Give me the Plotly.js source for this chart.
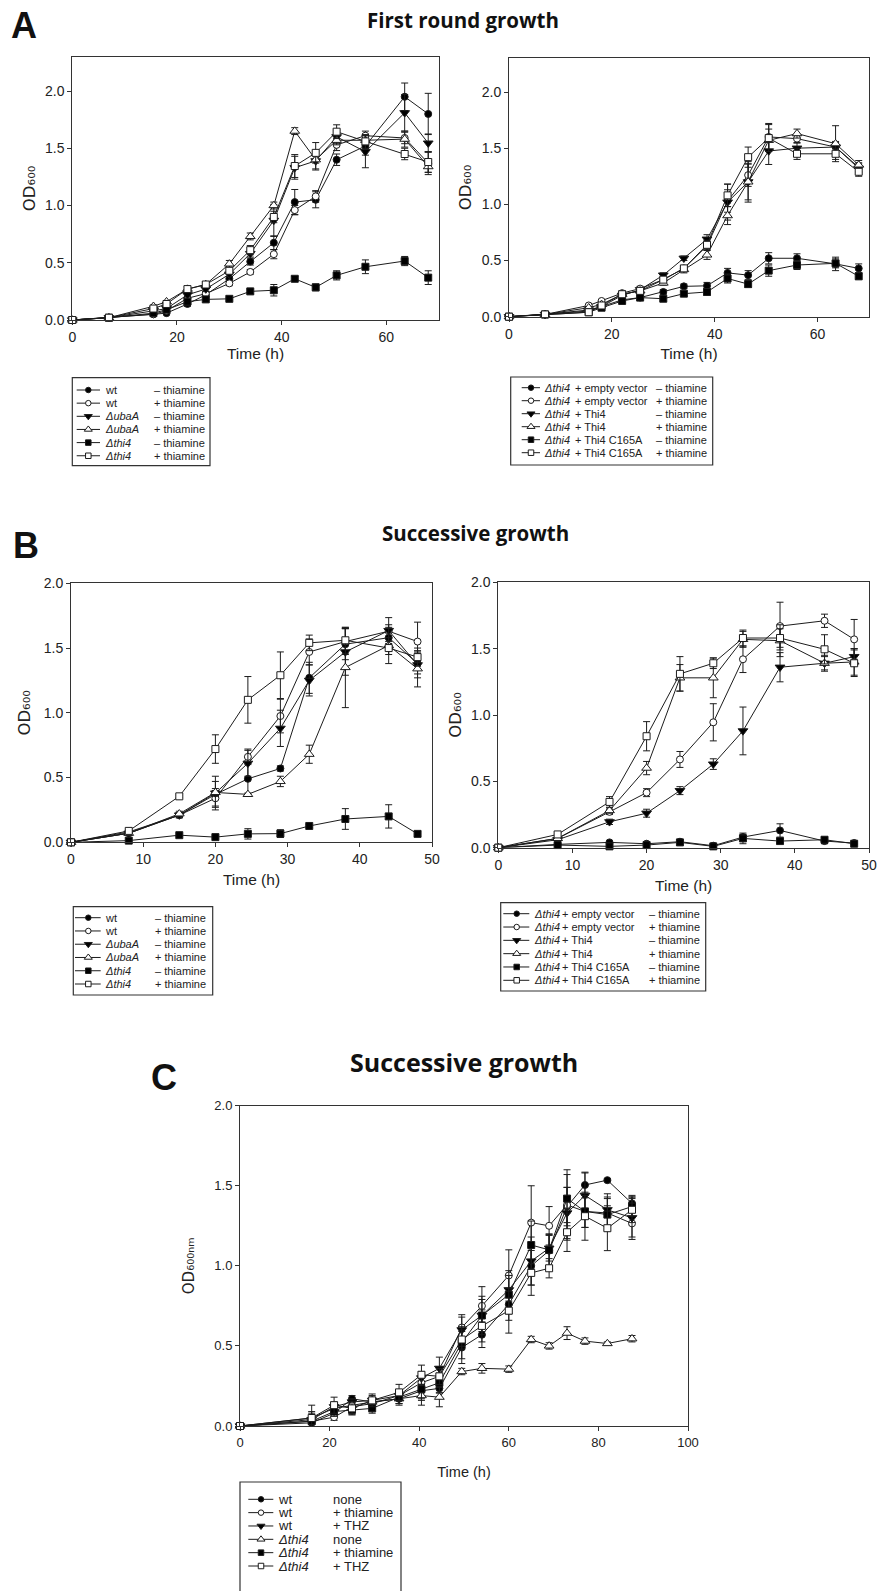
<!DOCTYPE html>
<html><head><meta charset="utf-8">
<script src="https://cdn.plot.ly/plotly-3.0.1.min.js"></script>
<style>html,body{margin:0;padding:0;background:#fff}</style>
</head><body><div id="chart" style="width:877px;height:1591px"></div>
<script>
// ================= DATA =================
// Panel A (first round growth)
const timeA = [0,7,15.5,18,22,25.5,30,34,38.5,42.5,46.5,50.5,56,63.5,68];
const aL_wtMinus  = [0,0.02,0.05,0.06,0.14,0.22,0.36,0.51,0.675,1.03,1.05,1.40,1.52,1.95,1.80];
const aL_wtPlus   = [0,0.02,0.05,0.08,0.19,0.23,0.32,0.42,0.575,0.96,1.08,1.53,1.61,1.59,1.37];
const aL_ubaMinus = [0,0.02,0.08,0.10,0.22,0.27,0.40,0.58,0.87,1.33,1.39,1.60,1.47,1.81,1.545];
const aL_ubaPlus  = [0,0.02,0.12,0.16,0.27,0.31,0.49,0.73,1.00,1.65,1.40,1.57,1.57,1.58,1.34];
const aL_thiMinus = [0,0.02,0.06,0.09,0.16,0.18,0.185,0.25,0.26,0.36,0.285,0.39,0.465,0.515,0.37];
const aL_thiPlus  = [0,0.02,0.10,0.14,0.27,0.31,0.43,0.61,0.90,1.345,1.46,1.645,1.56,1.45,1.38];
const eL_wtMinus  = [0,0,0.01,0.01,0.02,0.02,0.02,0.03,0.06,0.11,0.07,0.05,0.08,0.12,0.18];
const eL_wtPlus   = [0,0,0.01,0.01,0.02,0.02,0.02,0.02,0.04,0.04,0.05,0.05,0.04,0.05,0.10];
const eL_ubaMinus = [0,0,0.01,0.01,0.02,0.02,0.02,0.03,0.14,0.10,0.08,0.06,0.14,0.16,0.08];
const eL_ubaPlus  = [0,0,0.01,0.01,0.02,0.02,0.03,0.03,0.03,0.03,0.08,0.04,0.04,0.07,0.05];
const eL_thiMinus = [0,0,0.01,0.01,0.01,0.01,0.01,0.02,0.05,0.02,0.03,0.04,0.06,0.04,0.06];
const eL_thiPlus  = [0,0,0.01,0.01,0.02,0.02,0.03,0.04,0.05,0.10,0.09,0.06,0.06,0.05,0.09];

const aR_evMinus   = [0,0.02,0.05,0.09,0.15,0.17,0.22,0.27,0.275,0.39,0.37,0.52,0.52,0.47,0.43];
const aR_evPlus    = [0,0.02,0.10,0.14,0.21,0.25,0.33,0.43,0.63,1.03,1.26,1.60,1.585,1.51,1.33];
const aR_thi4Minus = [0,0.02,0.06,0.09,0.19,0.24,0.37,0.52,0.69,1.02,1.20,1.475,1.50,1.51,1.32];
const aR_thi4Plus  = [0,0.02,0.08,0.11,0.20,0.23,0.30,0.42,0.55,0.90,1.20,1.57,1.63,1.54,1.35];
const aR_c165Minus = [0,0.02,0.04,0.08,0.14,0.17,0.16,0.205,0.22,0.34,0.29,0.41,0.46,0.475,0.36];
const aR_c165Plus  = [0,0.02,0.04,0.10,0.20,0.23,0.33,0.43,0.64,1.08,1.42,1.59,1.45,1.45,1.29];
const eR_evMinus   = [0,0,0.01,0.01,0.02,0.02,0.02,0.02,0.03,0.04,0.04,0.05,0.04,0.06,0.04];
const eR_evPlus    = [0,0,0.01,0.01,0.02,0.02,0.02,0.02,0.04,0.10,0.10,0.12,0.04,0.04,0.04];
const eR_thi4Minus = [0,0,0.01,0.01,0.02,0.02,0.02,0.02,0.04,0.16,0.16,0.12,0.05,0.05,0.04];
const eR_thi4Plus  = [0,0,0.01,0.01,0.02,0.02,0.02,0.03,0.04,0.08,0.18,0.10,0.04,0.16,0.04];
const eR_c165Minus = [0,0,0.01,0.01,0.02,0.02,0.02,0.02,0.03,0.04,0.03,0.05,0.04,0.04,0.03];
const eR_c165Plus  = [0,0,0.01,0.01,0.02,0.02,0.02,0.02,0.04,0.10,0.09,0.12,0.05,0.05,0.04];

// Panel B (successive growth)
const timeB = [0,8,15,20,24.5,29,33,38,44,48];
const bL_wtMinus  = [0,0.07,0.21,0.37,0.49,0.57,1.27,1.53,1.58,1.38];
const bL_wtPlus   = [0,0.08,0.21,0.34,0.66,0.975,1.47,1.55,1.63,1.55];
const bL_ubaMinus = [0,0.07,0.21,0.38,0.61,0.88,1.25,1.47,1.635,1.37];
const bL_ubaPlus  = [0,0.07,0.22,0.385,0.37,0.47,0.68,1.35,1.52,1.34];
const bL_thiMinus = [0,0.013,0.055,0.04,0.065,0.067,0.126,0.18,0.20,0.065];
const bL_thiPlus  = [0,0.088,0.355,0.72,1.10,1.29,1.54,1.56,1.50,1.43];
const fL_wtMinus  = [0,0.01,0.02,0.10,0.12,0.02,0.12,0.12,0.06,0.08];
const fL_wtPlus   = [0,0.01,0.02,0.06,0.06,0.13,0.10,0.10,0.05,0.15];
const fL_ubaMinus = [0,0.01,0.02,0.13,0.10,0.14,0.12,0.18,0.10,0.10];
const fL_ubaPlus  = [0,0.01,0.02,0.03,0.01,0.04,0.07,0.31,0.14,0.14];
const fL_thiMinus = [0,0.01,0.01,0.01,0.04,0.03,0.01,0.08,0.09,0.02];
const fL_thiPlus  = [0,0.01,0.01,0.11,0.18,0.18,0.06,0.10,0.05,0.07];

const bR_evMinus   = [0,0.025,0.04,0.03,0.045,0.015,0.08,0.13,0.05,0.035];
const bR_evPlus    = [0,0.07,0.27,0.415,0.665,0.945,1.42,1.67,1.71,1.57];
const bR_thi4Minus = [0,0.06,0.195,0.26,0.43,0.63,0.88,1.36,1.39,1.44];
const bR_thi4Plus  = [0,0.07,0.28,0.60,1.28,1.28,1.57,1.56,1.39,1.40];
const bR_c165Minus = [0,0.02,0.01,0.02,0.04,0.01,0.07,0.05,0.06,0.03];
const bR_c165Plus  = [0,0.10,0.345,0.84,1.31,1.39,1.58,1.58,1.495,1.39];
const fR_evMinus   = [0,0.01,0.01,0.01,0.01,0.01,0.02,0.05,0.02,0.01];
const fR_evPlus    = [0,0.01,0.02,0.03,0.06,0.14,0.10,0.18,0.05,0.15];
const fR_thi4Minus = [0,0.01,0.02,0.03,0.03,0.04,0.18,0.11,0.05,0.06];
const fR_thi4Plus  = [0,0.01,0.02,0.05,0.10,0.15,0.06,0.12,0.06,0.10];
const fR_c165Minus = [0,0.01,0.01,0.01,0.02,0.01,0.04,0.02,0.02,0.01];
const fR_c165Plus  = [0,0.01,0.04,0.11,0.13,0.04,0.06,0.07,0.11,0.10];

// Panel C (successive growth, THZ)
const timeC = [0,16,21,25,29.5,35.5,40.5,44.5,49.5,54,60,65,69,73,77,82,87.5];
const c_wtNone  = [0,0.02,0.08,0.17,0.15,0.17,0.22,0.235,0.49,0.57,0.76,1.00,1.095,1.37,1.505,1.535,1.39];
const c_wtThia  = [0,0.03,0.055,0.12,0.14,0.19,0.27,0.31,0.615,0.75,0.94,1.27,1.25,1.38,1.34,1.33,1.265];
const c_wtTHZ   = [0,0.04,0.12,0.15,0.16,0.19,0.30,0.36,0.60,0.69,0.85,1.03,1.11,1.33,1.44,1.35,1.30];
const c_thiNone = [0,0.05,0.11,0.13,0.15,0.17,0.19,0.18,0.34,0.36,0.355,0.54,0.50,0.58,0.53,0.515,0.545];
const c_thiThia = [0,0.03,0.09,0.10,0.11,0.18,0.23,0.27,0.52,0.69,0.82,1.13,1.10,1.42,1.34,1.32,1.37];
const c_thiTHZ  = [0,0.05,0.13,0.11,0.16,0.21,0.32,0.31,0.54,0.625,0.72,0.956,0.985,1.21,1.31,1.235,1.35];
const g_wtNone  = [0,0.01,0.02,0.02,0.04,0.04,0.05,0.03,0.10,0.08,0.10,0.12,0.10,0.12,0.08,0.01,0.05];
const g_wtThia  = [0,0.05,0.02,0.02,0.02,0.03,0.06,0.06,0.08,0.12,0.16,0.23,0.12,0.22,0.10,0.10,0.10];
const g_wtTHZ   = [0,0.01,0.03,0.02,0.02,0.03,0.04,0.07,0.08,0.10,0.12,0.15,0.08,0.16,0.14,0.10,0.12];
const g_thiNone = [0,0.04,0.03,0.02,0.02,0.03,0.06,0.06,0.02,0.03,0.02,0.02,0.02,0.04,0.02,0.01,0.02];
const g_thiThia = [0,0.01,0.03,0.03,0.03,0.04,0.07,0.06,0.10,0.12,0.12,0.15,0.10,0.15,0.10,0.10,0.06];
const g_thiTHZ  = [0,0.08,0.05,0.04,0.04,0.05,0.06,0.05,0.06,0.10,0.14,0.14,0.06,0.12,0.15,0.14,0.08];

// Tick labels / text
const yTicks = [0,0.5,1,1.5,2];
const xTicksA = [0,20,40,60];
const xTicksB = [0,10,20,30,40,50];
const xTicksC = [0,20,40,60,80,100];
const xTitle = 'Time (h)';
const yTitle = 'OD₆₀₀';
const yTitleC = 'OD₆₀₀ₙₘ';

const strainLeft = ['wt','wt','<i>ΔubaA</i>','<i>ΔubaA</i>','<i>Δthi4</i>','<i>Δthi4</i>'];
const condLeft = ['– thiamine','+ thiamine','– thiamine','+ thiamine','– thiamine','+ thiamine'];
const strainRight = ['<i>Δthi4</i>','<i>Δthi4</i>','<i>Δthi4</i>','<i>Δthi4</i>','<i>Δthi4</i>','<i>Δthi4</i>'];
const plasmidRight = ['+ empty vector','+ empty vector','+ Thi4','+ Thi4','+ Thi4 C165A','+ Thi4 C165A'];
const condRight = ['– thiamine','+ thiamine','– thiamine','+ thiamine','– thiamine','+ thiamine'];
const strainC = ['wt','wt','wt','<i>Δthi4</i>','<i>Δthi4</i>','<i>Δthi4</i>'];
const condC = ['none','+ thiamine','+ THZ','none','+ thiamine','+ THZ'];

// ================= STYLE / LAYOUT =================
const W = 877, H = 1591;
const INK = '#1c1c1c', FRAME = '#333', TXT = '#222';
const FONT = 'Liberation Sans, Arial, Helvetica, sans-serif';
const SUBFONT = 'DejaVu Sans, Liberation Sans, sans-serif';
const TFONT = 'Open Sans, Lato, sans-serif';
const SYM = ['circle','circle','triangle-down','triangle-up','square','square'];
const FILL = ['#000','#fff','#000','#fff','#000','#fff'];
const SIZE = [7,7,8.5,8.5,7,7];

function dx(a,b){return [a/W,b/W];}
function dy(t,b){return [1-b/H,1-t/H];}

const layout = {
  width:W, height:H, margin:{l:0,r:0,t:0,b:0}, autosize:false,
  paper_bgcolor:'#fff', plot_bgcolor:'rgba(0,0,0,0)', showlegend:false,
  font:{family:FONT,color:TXT}, annotations:[], shapes:[]
};
const traces = [];

function axBase(fs){
  return {showline:true, mirror:true, linecolor:FRAME, linewidth:1, ticks:'outside', ticklen:4,
    tickwidth:1, tickcolor:FRAME, showgrid:false, zeroline:false, fixedrange:true, autorange:false,
    automargin:false, tickfont:{family:FONT,size:fs,color:TXT}};
}

const panels = [
  {n:1, x:[72.3,438.7], y:[56.7,320],   xr:[0,70],  yr:[0,2.3], xt:xTicksA, fs:14,
   xt_t:{text:xTitle, fs:15.5, so:4}, yt_t:{text:yTitle, fs:16.5, so:5},
   time:timeA, ys:[aL_wtMinus,aL_wtPlus,aL_ubaMinus,aL_ubaPlus,aL_thiMinus,aL_thiPlus],
   es:[eL_wtMinus,eL_wtPlus,eL_ubaMinus,eL_ubaPlus,eL_thiMinus,eL_thiPlus]},
  {n:2, x:[509,869],    y:[58.3,316.7], xr:[0,70],  yr:[0,2.3], xt:xTicksA, fs:14,
   xt_t:{text:xTitle, fs:15.5, so:7}, yt_t:{text:yTitle, fs:16.5, so:5},
   time:timeA, ys:[aR_evMinus,aR_evPlus,aR_thi4Minus,aR_thi4Plus,aR_c165Minus,aR_c165Plus],
   es:[eR_evMinus,eR_evPlus,eR_thi4Minus,eR_thi4Plus,eR_c165Minus,eR_c165Plus]},
  {n:3, x:[71,432],     y:[583.3,842.3], xr:[0,50], yr:[0,2],   xt:xTicksB, fs:14,
   xt_t:{text:xTitle, fs:15.5, so:8}, yt_t:{text:yTitle, fs:16.5, so:8},
   time:timeB, ys:[bL_wtMinus,bL_wtPlus,bL_ubaMinus,bL_ubaPlus,bL_thiMinus,bL_thiPlus],
   es:[fL_wtMinus,fL_wtPlus,fL_ubaMinus,fL_ubaPlus,fL_thiMinus,fL_thiPlus]},
  {n:4, x:[498.3,869],  y:[582.3,847.7], xr:[0,50], yr:[0,2],   xt:xTicksB, fs:14,
   xt_t:{text:xTitle, fs:15.5, so:8}, yt_t:{text:yTitle, fs:16.5, so:5},
   time:timeB, ys:[bR_evMinus,bR_evPlus,bR_thi4Minus,bR_thi4Plus,bR_c165Minus,bR_c165Plus],
   es:[fR_evMinus,fR_evPlus,fR_thi4Minus,fR_thi4Plus,fR_c165Minus,fR_c165Plus]},
  {n:5, x:[240,688],    y:[1105.7,1426], xr:[0,100], yr:[0,2],  xt:xTicksC, fs:13,
   xt_t:{text:xTitle, fs:14.5, so:18}, yt_t:{text:yTitleC, fs:15, so:16},
   time:timeC, ys:[c_wtNone,c_wtThia,c_wtTHZ,c_thiNone,c_thiThia,c_thiTHZ],
   es:[g_wtNone,g_wtThia,g_wtTHZ,g_thiNone,g_thiThia,g_thiTHZ]}
];

panels.forEach(p=>{
  const s = p.n===1 ? '' : String(p.n);
  layout['xaxis'+s] = Object.assign(axBase(p.fs), {domain:dx(p.x[0],p.x[1]), range:p.xr, tickvals:p.xt, anchor:'y'+s,
    title:{text:p.xt_t.text, standoff:p.xt_t.so, font:{family:FONT,size:p.xt_t.fs,color:TXT}}});
  layout['yaxis'+s] = Object.assign(axBase(p.fs), {domain:dy(p.y[0],p.y[1]), range:p.yr, tickvals:yTicks, tickformat:'.1f', anchor:'x'+s,
    title:{text:p.yt_t.text, standoff:p.yt_t.so, font:{family:SUBFONT,size:p.yt_t.fs,color:TXT}}});
  p.ys.forEach((yv,i)=>{
    traces.push({type:'scatter', mode:'lines+markers', x:p.time, y:yv, xaxis:'x'+s, yaxis:'y'+s,
      cliponaxis:false, hoverinfo:'skip',
      line:{color:INK,width:1},
      marker:{symbol:SYM[i], size:SIZE[i], color:FILL[i], line:{color:INK,width:1}},
      error_y:{type:'data', array:p.es[i], visible:true, color:INK, thickness:1, width:3.5}});
  });
});

// Helper pixel axis (whole page) for legends and labels
layout.xaxis6 = {domain:[0,1], range:[0,W], visible:false, fixedrange:true, autorange:false, anchor:'y6'};
layout.yaxis6 = {domain:[0,1], range:[H,0], visible:false, fixedrange:true, autorange:false, anchor:'x6'};

function txt(x,y,text,size,opts){
  layout.annotations.push(Object.assign({xref:'x6', yref:'y6', x:x, y:y, text:text, showarrow:false,
    xanchor:'center', yanchor:'middle', font:{family:FONT,size:size,color:TXT}}, opts||{}));
}

// Panel letters and titles
txt(9, 25.5, '<b>A</b>', 36, {xanchor:'left', font:{family:FONT,size:36,color:'#111'}});
txt(11, 545.5, '<b>B</b>', 36, {xanchor:'left', font:{family:FONT,size:36,color:'#111'}});
txt(149, 1077.5, '<b>C</b>', 36, {xanchor:'left', font:{family:FONT,size:36,color:'#111'}});
txt(463, 20, '<b>First round growth</b>', 20.5, {font:{family:TFONT,size:20.5,color:'#111'}});
txt(475.5, 532.6, '<b>Successive growth</b>', 20.5, {font:{family:TFONT,size:20.5,color:'#111'}});
txt(463.5, 1062, '<b>Successive growth</b>', 25, {font:{family:TFONT,size:25,color:'#111'}});

// Legends
const legends = [
  {box:[72.3,377.7,210,465.7], row0:390, gap:13.15, line:[76.7,100], mark:88.3, fs:11,
   cols:[[102.7,strainLeft],[151.5,condLeft]]},
  {box:[510.7,377,712.7,465], row0:387.7, gap:13.0, line:[521.7,540], mark:531, fs:11,
   cols:[[542.3,strainRight],[572.5,plasmidRight],[653.5,condRight]]},
  {box:[73.3,906.7,212.7,995], row0:917.7, gap:13.26, line:[75,100.7], mark:88.3, fs:11,
   cols:[[103.3,strainLeft],[153.3,condLeft]]},
  {box:[500.7,902.7,705.7,991], row0:913.7, gap:13.32, line:[503.3,529.3], mark:516.7, fs:11,
   cols:[[531.7,strainRight],[560,plasmidRight],[647,condRight]]},
  {box:[240,1482,401,1620], row0:1499.3, gap:13.34, line:[248.3,273.3], mark:261, fs:13,
   cols:[[276,strainC],[331,condC]]}
];
legends.forEach(L=>{
  layout.shapes.push({type:'rect', xref:'x6', yref:'y6', x0:L.box[0], x1:L.box[2], y0:L.box[1], y1:L.box[3],
    line:{color:FRAME,width:1.2}, fillcolor:'rgba(0,0,0,0)'});
  for(let i=0;i<6;i++){
    const ry = L.row0 + i*L.gap;
    traces.push({type:'scatter', mode:'lines', x:[L.line[0],L.line[1]], y:[ry,ry], xaxis:'x6', yaxis:'y6',
      hoverinfo:'skip', cliponaxis:false, line:{color:INK,width:1}});
    traces.push({type:'scatter', mode:'markers', x:[L.mark], y:[ry], xaxis:'x6', yaxis:'y6',
      hoverinfo:'skip', cliponaxis:false,
      marker:{symbol:SYM[i], size:SIZE[i]-1.5, color:FILL[i], line:{color:INK,width:1}}});
    L.cols.forEach(c=>{
      txt(c[0], ry, c[1][i], L.fs, {xanchor:'left'});
    });
  }
});

Plotly.newPlot('chart', traces, layout, {staticPlot:true, displayModeBar:false});
</script>
</body></html>
